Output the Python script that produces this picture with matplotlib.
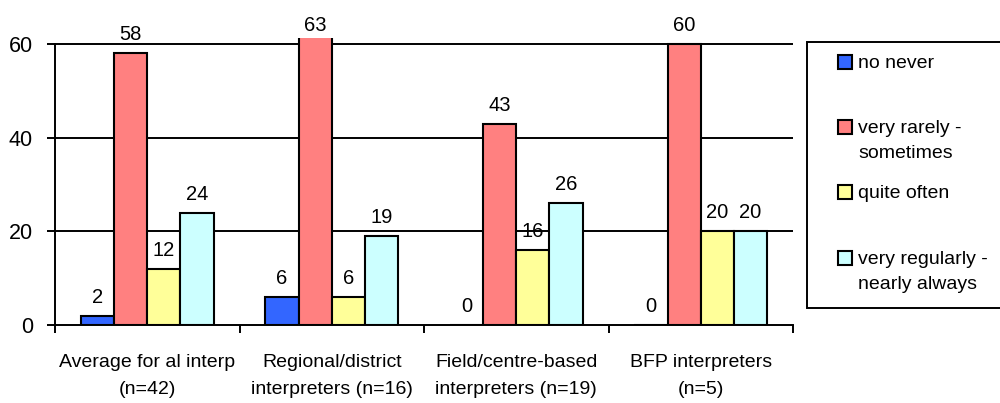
import matplotlib
matplotlib.use("Agg")
import matplotlib.pyplot as plt
from matplotlib.patches import Rectangle
import numpy as np

plt.rcParams['font.family'] = ['Liberation Sans', 'DejaVu Sans']

categories = ["Average for al interp\n(n=42)",
              "Regional/district\ninterpreters (n=16)",
              "Field/centre-based\ninterpreters (n=19)",
              "BFP interpreters\n(n=5)"]
series_names = ["no never", "very rarely -\nsometimes", "quite often",
                "very regularly -\nnearly always"]
no_never = [2, 6, 0, 0]
very_rarely = [58, 63, 43, 60]
quite_often = [12, 6, 16, 20]
very_regularly = [24, 19, 26, 20]
y_ticks = [0, 20, 40, 60]

series = [no_never, very_rarely, quite_often, very_regularly]
colors = ["#3366FF", "#FF8080", "#FFFF99", "#CCFFFF"]

fig = plt.figure(figsize=(10, 4.03), dpi=100)
ax = fig.add_axes([0.055, 0.1935, 0.738, 0.7122])
ymax = 61.3
ax.set_xlim(-0.5, len(categories) - 0.5)
ax.set_ylim(0, ymax)

width = 0.18
x = np.arange(len(categories))
for i, (vals, col) in enumerate(zip(series, colors)):
    pos = x + (i - 1.5) * width
    ax.bar(pos, vals, width=width, color=col, edgecolor="black",
           linewidth=1.5, zorder=3)
    for xp, v in zip(pos, vals):
        top = min(v, ymax)
        off = 2 if v > ymax else 6.5
        ax.annotate(f"{v}", (xp, top), xytext=(0, off),
                    textcoords="offset points", ha="center", va="bottom",
                    fontsize=14.5, annotation_clip=False, zorder=4)

# horizontal gridlines
for t in y_ticks[1:]:
    ax.axhline(t, color="black", linewidth=1.4, zorder=1)

ax.set_yticks(y_ticks)
ax.tick_params(axis="y", labelsize=15.5, length=6, width=1.4, direction="out",
               pad=10)
ax.set_xticks(np.arange(len(categories) + 1) - 0.5, minor=False)
ax.set_xticklabels([])
ax.set_xticks(x, minor=True)
ax.set_xticklabels(categories, minor=True, fontsize=14, linespacing=1.75)
ax.tick_params(axis="x", which="major", length=6, width=1.4, direction="out")
ax.tick_params(axis="x", which="minor", length=0, pad=21)

for s in ["top", "right"]:
    ax.spines[s].set_visible(False)
ax.spines["left"].set_linewidth(1.4)
ax.spines["bottom"].set_linewidth(1.4)
ax.spines["left"].set_bounds(0, 60)
ax.spines["left"].set_zorder(5)
ax.spines["bottom"].set_zorder(5)

# legend box
W, H = 1000.0, 403.0
fig.patches.append(Rectangle((807 / W, 1 - 308 / H), 200 / W, 266 / H,
                             transform=fig.transFigure, facecolor="white",
                             edgecolor="black", linewidth=1.4, clip_on=False))
marker_y = [62, 127, 192, 258]
for name, col, my in zip(series_names, colors, marker_y):
    fig.patches.append(Rectangle((838 / W, 1 - (my + 7) / H), 14 / W, 14 / H,
                                 transform=fig.transFigure, facecolor=col,
                                 edgecolor="black", linewidth=1.5))
    fig.text(858 / W, 1 - (my - 7) / H, name, ha="left", va="top",
             fontsize=14, linespacing=1.65)

fig.savefig("out.png", dpi=100)
